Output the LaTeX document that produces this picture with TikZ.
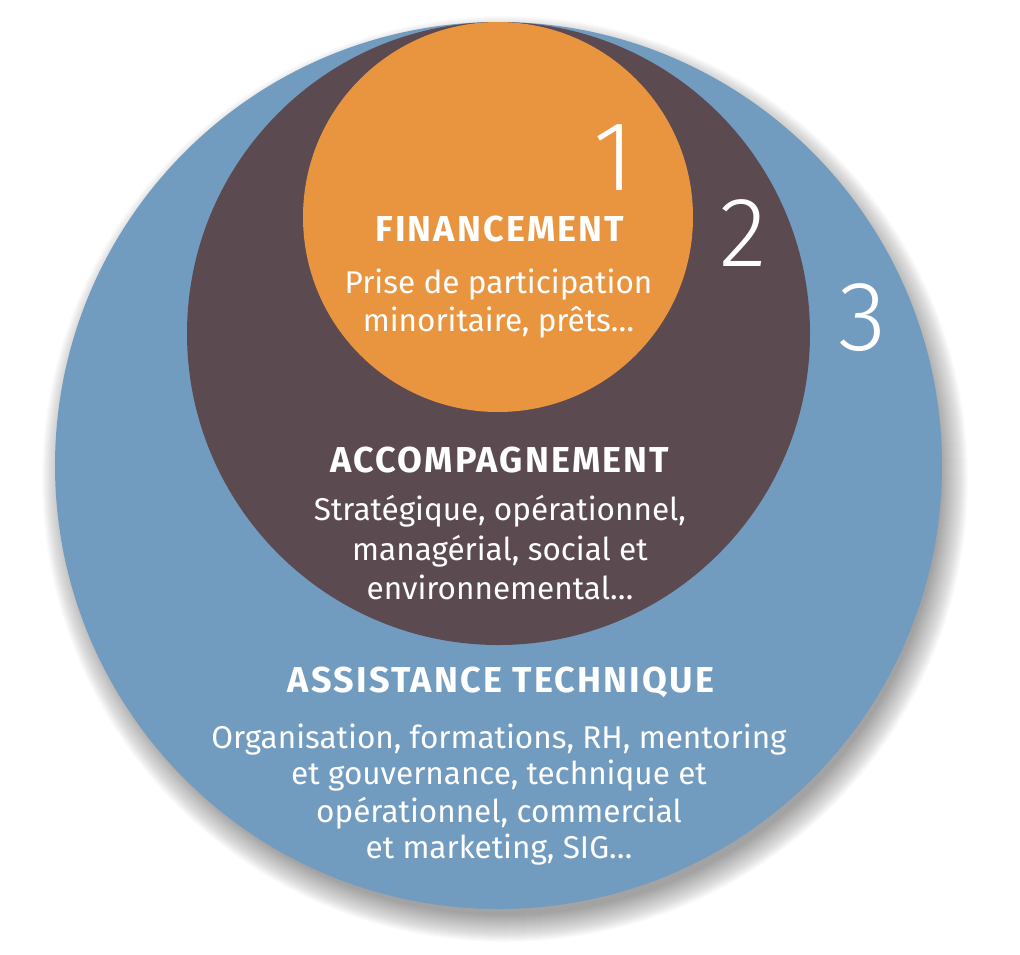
\documentclass[tikz,border=0pt]{standalone}
\usepackage{fontspec}
\setmainfont{Fira Sans}
\newfontfamily\numfont{Fira Sans Light}
\newfontfamily\headfont[LetterSpace=6]{Fira Sans}
\definecolor{orangeF}{RGB}{233,149,64}
\definecolor{brownA}{RGB}{92,74,81}
\definecolor{blueT}{RGB}{114,155,192}
\begin{document}
\begin{tikzpicture}[x=1pt,y=-1pt,
 head/.style={font=\headfont\bfseries\fontsize{36}{40}\selectfont, text=white, anchor=base, inner sep=0pt},
 body/.style={font=\fontsize{31.5}{38}\selectfont, text=white, anchor=base, inner sep=0pt},
 num/.style={font=\numfont\fontsize{99}{100}\selectfont, text=white, anchor=base, inner sep=0pt}]
\useasboundingbox (0,0) rectangle (1020,954);
% soft shadow
\foreach \k in {0,...,27} \fill[black,opacity=0.014] (505,479) circle ({436pt+\k pt});
% circles
\fill[blueT] (498.5,465.5) circle (443.5pt);
\fill[brownA] (498.5,333.5) circle (311.5pt);
\fill[orangeF] (498,217) circle (195pt);
% numbers
\node[num] (n1) at (614,190) {1};
\node[num] (n2) at (743,266) {2};
\node[num] (n3) at (863,350) {3};
% level 1
\node[head] (fh) at (500,241) {FINANCEMENT};
\node[body] (f1) at (498.5,293) {Prise de participation};
\node[body] (f2) at (498.5,331) {minoritaire, prêts…};
% level 2
\node[head] (ah) at (500,472) {ACCOMPAGNEMENT};
\node[body] (a1) at (500,520) {Stratégique, opérationnel,};
\node[body] (a2) at (500,560) {managérial, social et};
\node[body] (a3) at (500,599) {environnemental…};
% level 3
\node[head] (th) at (501,692) {ASSISTANCE TECHNIQUE};
\node[body] (t1) at (499,748) {Organisation, formations, RH, mentoring};
\node[body] (t2) at (499,784) {et gouvernance, technique et};
\node[body] (t3) at (499,822) {opérationnel, commercial};
\node[body] (t4) at (499,858) {et marketing, SIG…};
\end{tikzpicture}
\end{document}
